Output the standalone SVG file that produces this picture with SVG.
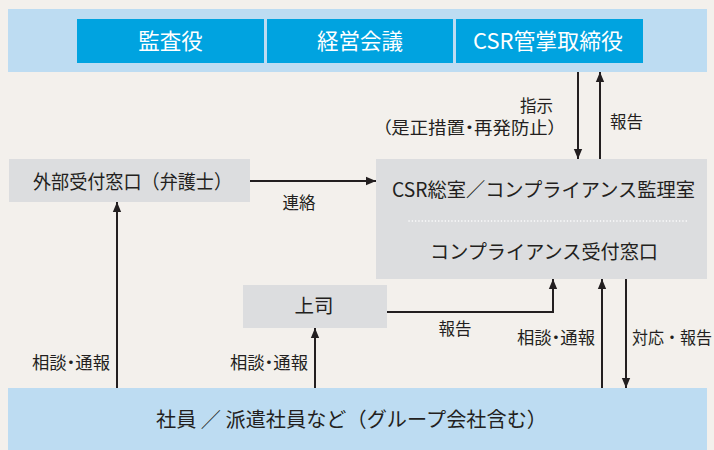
<svg xmlns="http://www.w3.org/2000/svg" width="714" height="450" viewBox="0 0 714 450">
<defs>
<style>
text{font-family:"Noto Sans CJK JP","Noto Sans",sans-serif;fill:#231f20}
.band{fill:#bddcf2}
.blue{fill:#00a3e0}
.gray{fill:#dcdddf}
.wt{fill:#ffffff;font-size:21.5px;text-anchor:middle}
.nt{font-size:19.5px;text-anchor:middle}
.lb{font-size:16.5px}
.pa{font-feature-settings:"palt"}
.ln{fill:none;stroke:#231f20;stroke-width:2}
</style>
<marker id="ah" markerUnits="userSpaceOnUse" markerWidth="10" markerHeight="14" viewBox="0 0 12 10" refX="12" refY="5" orient="auto">
<path d="M0,0 L12,5 L0,10 Z" fill="#231f20"/>
</marker>
</defs>
<rect width="714" height="450" fill="#f3f0ec"/>
<g id="top-band">
<rect class="band" x="8" y="9" width="699" height="63"/>
</g>
<g id="kansayaku">
<rect class="blue" x="77" y="19" width="187" height="44"/>
<text class="wt" x="170.5" y="49">監査役</text>
</g>
<g id="keiei-kaigi">
<rect class="blue" x="267" y="19" width="186" height="44"/>
<text class="wt" x="360" y="49">経営会議</text>
</g>
<g id="csr-torishimariyaku">
<rect class="blue" x="456" y="19" width="187" height="44"/>
<text class="wt" x="548" y="49" textLength="150" lengthAdjust="spacingAndGlyphs">CSR管掌取締役</text>
</g>
<g id="csr-office">
<rect class="gray" x="376" y="159" width="331" height="120"/>
<text class="nt" x="543.5" y="197" textLength="303" lengthAdjust="spacingAndGlyphs">CSR総室／コンプライアンス監理室</text>
<line x1="409" y1="221" x2="688" y2="221" stroke="#ffffff" stroke-width="1.5" stroke-dasharray="0.1 3.2" stroke-linecap="round"/>
<text class="nt" x="544" y="259" textLength="228" lengthAdjust="spacingAndGlyphs">コンプライアンス受付窓口</text>
</g>
<g id="external">
<rect class="gray" x="9" y="159" width="241" height="43"/>
<text class="nt" x="132.5" y="189" textLength="199" lengthAdjust="spacingAndGlyphs">外部受付窓口（弁護士）</text>
</g>
<g id="joshi">
<rect class="gray" x="243" y="285" width="144" height="43"/>
<text class="nt" x="314" y="313">上司</text>
</g>
<g id="employees">
<rect class="band" x="8" y="388" width="699" height="62"/>
<text x="156" y="427" style="font-size:20.5px" textLength="391" lengthAdjust="spacingAndGlyphs">社員 ／ 派遣社員など（グループ会社含む）</text>
</g>
<g id="connectors">
<line class="ln" x1="578" y1="72" x2="578" y2="159" marker-end="url(#ah)"/>
<line class="ln" x1="600" y1="159" x2="600" y2="72" marker-end="url(#ah)"/>
<line class="ln" x1="250" y1="181" x2="376" y2="181" marker-end="url(#ah)"/>
<line class="ln" x1="117" y1="388" x2="117" y2="202" marker-end="url(#ah)"/>
<line class="ln" x1="315" y1="388" x2="315" y2="328" marker-end="url(#ah)"/>
<path class="ln" d="M387,312 H553 V279" marker-end="url(#ah)"/>
<line class="ln" x1="602" y1="388" x2="602" y2="279" marker-end="url(#ah)"/>
<line class="ln" x1="626" y1="279" x2="626" y2="388" marker-end="url(#ah)"/>
</g>
<g id="labels">
<text class="lb" x="553" y="112" text-anchor="end">指示</text>
<text class="lb pa" x="382" y="134" textLength="175" lengthAdjust="spacingAndGlyphs">（是正措置・再発防止）</text>
<text class="lb" x="610" y="128">報告</text>
<text class="lb" x="299" y="209" text-anchor="middle">連絡</text>
<text class="lb" x="455" y="335" text-anchor="middle">報告</text>
<text class="lb pa" x="32" y="369" textLength="78" lengthAdjust="spacingAndGlyphs">相談・通報</text>
<text class="lb pa" x="230" y="369" textLength="78" lengthAdjust="spacingAndGlyphs">相談・通報</text>
<text class="lb pa" x="517" y="344" textLength="78" lengthAdjust="spacingAndGlyphs">相談・通報</text>
<text class="lb" x="632" y="344" textLength="80" lengthAdjust="spacingAndGlyphs">対応・報告</text>
</g>
</svg>
